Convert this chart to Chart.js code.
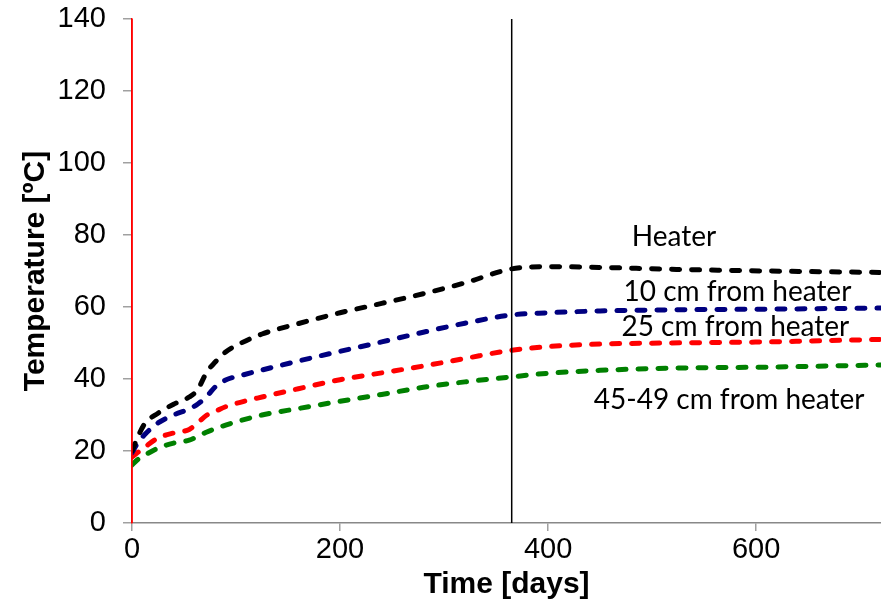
<!DOCTYPE html>
<html>
<head>
<meta charset="utf-8">
<script src="https://cdn.jsdelivr.net/npm/chart.js@4"></script>
<style>
  html, body { margin: 0; padding: 0; background: #fff; }
  #wrap { width: 881px; height: 605px; }
</style>
</head>
<body>
<div id="wrap"><canvas id="chart" width="881" height="605"></canvas></div>
<script>
// Sampling days shared by all four temperature series
const days = [0, 5, 12, 25, 40, 55, 63, 72, 80, 90, 105, 125, 160, 200, 240, 280, 320, 365, 400, 450, 515, 610, 720];

const heater   = [20, 23.5, 27.5, 30.5, 33, 35, 37, 42, 44.7, 47.5, 50, 52.5, 55.4, 58.4, 61, 63.7, 66.7, 70.6, 71.2, 71, 70.5, 70, 69.6];
const cm10     = [19.5, 22, 24.5, 27.8, 30, 31.7, 33, 35.2, 37.8, 39.7, 41, 42.5, 45, 47.7, 50.3, 53, 55.5, 57.8, 58.4, 58.9, 59.2, 59.4, 59.7];
const cm25     = [18.3, 19.5, 21, 23.6, 25, 26, 27.8, 30, 31, 32.3, 33.6, 35, 37.3, 39.8, 41.7, 43.6, 45.7, 48, 49, 49.7, 50, 50.3, 51];
const cm45     = [16.1, 17.5, 18.8, 20.8, 22.2, 23, 24, 25.3, 26.2, 27.2, 28.5, 30, 31.8, 33.8, 35.7, 37.7, 39.2, 40.6, 41.6, 42.4, 43, 43.3, 43.9];

const seriesNames = ['Heater', '10 cm from heater', '25 cm from heater', '45-49 cm from heater'];
const seriesColors = ['#000000', '#000080', '#ff0000', '#008000'];

// One-year marker and the start line
const yearDay = 365;
const startDay = 0;
const tempRange = [0, 140];
const dayRange = [0, 720];

// Where each series name sits, in (day, temperature)
const nameAnchors = [
  { day: 521, temp: 79.5 },
  { day: 582, temp: 64.2 },
  { day: 580, temp: 54.5 },
  { day: 574, temp: 34.3 }
];

const toPoints = (vals) => vals.map((v, i) => ({ x: days[i], y: v }));

const curveSets = [heater, cm10, cm25, cm45].map((vals, i) => ({
  label: seriesNames[i],
  data: toPoints(vals),
  borderColor: seriesColors[i],
  borderWidth: 5,
  borderDash: [8, 12],
  borderCapStyle: 'round',
  pointRadius: 0,
  cubicInterpolationMode: 'monotone',
  fill: false
}));

const markerSets = [
  {
    label: 'start',
    data: [{ x: startDay, y: tempRange[0] }, { x: startDay, y: tempRange[1] }],
    borderColor: '#ff0000',
    borderWidth: 1.5,
    pointRadius: 0
  },
  {
    label: 'one year',
    data: [{ x: yearDay, y: tempRange[0] }, { x: yearDay, y: tempRange[1] }],
    borderColor: '#000000',
    borderWidth: 1.5,
    pointRadius: 0
  }
];

// Writes the series names next to their curves
const seriesNamePlugin = {
  id: 'seriesNames',
  afterDatasetsDraw(chart) {
    const { ctx, scales: { x, y } } = chart;
    ctx.save();
    ctx.font = '28px Lato, "Open Sans", sans-serif';
    ctx.fillStyle = '#000';
    ctx.textAlign = 'center';
    ctx.textBaseline = 'middle';
    nameAnchors.forEach((a, i) => {
      ctx.fillText(seriesNames[i], x.getPixelForValue(a.day), y.getPixelForValue(a.temp));
    });
    ctx.restore();
  }
};

const axisFont = { family: '"Liberation Sans", Arial, sans-serif', size: 29 };
const titleFont = { family: '"Liberation Sans", Arial, sans-serif', size: 30, weight: 'bold' };

new Chart(document.getElementById('chart'), {
  type: 'line',
  data: { datasets: [...markerSets, ...curveSets] },
  options: {
    responsive: false,
    animation: false,
    layout: { padding: { top: 19, right: 0, left: 0, bottom: 0 } },
    plugins: {
      legend: { display: false },
      tooltip: { enabled: false }
    },
    scales: {
      x: {
        type: 'linear',
        min: dayRange[0],
        max: dayRange[1],
        // only the round hundreds get a tick, the axis end stays unlabelled
        afterBuildTicks: (scale) => {
          scale.ticks = scale.ticks.filter((t) => t.value % 200 === 0);
        },
        afterFit: (scale) => {
          scale.height = 82;
          scale.paddingRight = 0;
        },
        ticks: {
          stepSize: 200,
          color: '#000',
          font: axisFont,
          padding: 2,
          maxRotation: 0
        },
        grid: {
          drawOnChartArea: false,
          color: '#a0a0a0',
          tickLength: 8,
          lineWidth: 1.5
        },
        border: { color: '#888888', width: 1.5 },
        title: {
          display: true,
          text: 'Time [days]',
          color: '#000',
          font: titleFont,
          padding: { top: 0, bottom: 2 }
        }
      },
      y: {
        min: tempRange[0],
        max: tempRange[1],
        afterFit: (scale) => {
          scale.width = 132;
          scale.paddingTop = 0;
          scale.paddingBottom = 0;
        },
        ticks: {
          stepSize: 20,
          color: '#000',
          font: axisFont,
          padding: 17
        },
        grid: {
          drawOnChartArea: false,
          color: '#a0a0a0',
          tickLength: 9,
          lineWidth: 1.5
        },
        border: { color: '#ff0000', width: 1.5 },
        title: {
          display: true,
          text: 'Temperature [ºC]',
          color: '#000',
          font: titleFont,
          padding: { top: 18, bottom: 0 }
        }
      }
    }
  },
  plugins: [seriesNamePlugin]
});
</script>
</body>
</html>
